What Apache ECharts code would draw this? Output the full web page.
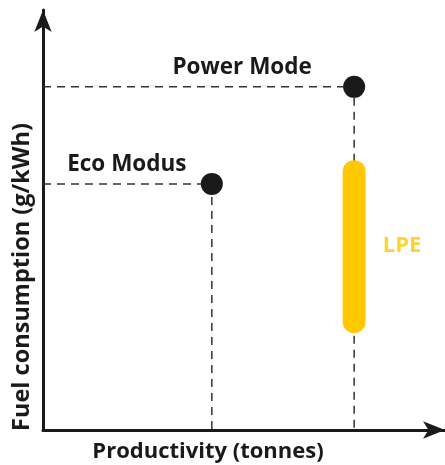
<!DOCTYPE html>
<html><head><meta charset="utf-8">
<script src="https://cdn.jsdelivr.net/npm/echarts@6/dist/echarts.min.js"></script>
<style>html,body{margin:0;padding:0;background:#fff}#c{width:445px;height:465px}</style>
</head><body><div id="c"></div>
<script>
const modes = ['Eco Modus', 'Power Mode'];
const productivity = [42.0, 77.4];
const fuelConsumption = [58.6, 81.7];
const lpeName = 'LPE';
const lpeProductivity = 77.4;
const lpeRange = [25.8, 61.5];
const xTitle = 'Productivity (tonnes)';
const yTitle = 'Fuel consumption (g/kWh)';

const FONT = '"Open Sans"';
const DARK = '#1a1a1a';
const YELLOW = '#ffc800';

const chart = echarts.init(document.getElementById('c'));
const series = [];
modes.forEach((m, i) => {
  series.push({
    type: 'line', silent: true, symbol: 'none',
    data: [[0, fuelConsumption[i]], [productivity[i], fuelConsumption[i]], [productivity[i], 0]],
    lineStyle: { color: '#333', width: 1.5, type: [8, 6] }, z: 1
  });
});
series.push({
  type: 'line', silent: true, symbol: 'none',
  data: lpeRange.map(v => [lpeProductivity, v]),
  lineStyle: { color: YELLOW, width: 23, cap: 'round' }, z: 2
});
series.push({
  type: 'scatter', symbolSize: 0,
  data: [[lpeProductivity, (lpeRange[0] + lpeRange[1]) / 2]],
  label: { show: true, formatter: lpeName, position: 'inside', offset: [48, -1],
    color: YELLOW, fontFamily: FONT, fontWeight: 'bold', fontSize: 22 }, z: 3
});
const labelOffsets = [[-85, -19], [-112, -19]];
series.push({
  type: 'scatter', symbolSize: 22, itemStyle: { color: DARK, opacity: 1 },
  emphasis: { disabled: true },
  data: modes.map((m, i) => ({
    value: [productivity[i], fuelConsumption[i]],
    label: { show: true, formatter: m, position: 'inside', offset: labelOffsets[i],
      color: DARK, opacity: 1, fontFamily: FONT, fontWeight: 'bold', fontSize: 22.5 }
  })), z: 4
});

chart.setOption({
  animation: false,
  grid: { left: 43, right: 0, top: 10, bottom: 35 },
  xAxis: { type: 'value', min: 0, max: 100,
    axisLine: { lineStyle: { color: DARK, width: 3 }, symbol: ['none', 'arrow'], symbolSize: [13, 22] },
    axisTick: { show: false }, axisLabel: { show: false }, splitLine: { show: false } },
  yAxis: { type: 'value', min: 0, max: 100,
    axisLine: { show: true, lineStyle: { color: DARK, width: 3 }, symbol: ['none', 'arrow'], symbolSize: [13, 22] },
    axisTick: { show: false }, axisLabel: { show: false }, splitLine: { show: false } },
  graphic: [
    { type: 'text', x: 208, y: 452, style: { text: xTitle, textAlign: 'center', textVerticalAlign: 'middle',
      fill: DARK, font: 'bold 22px ' + FONT } },
    { type: 'text', x: 22, y: 277, rotation: Math.PI / 2, style: { text: yTitle, textAlign: 'center', textVerticalAlign: 'middle',
      fill: DARK, font: 'bold 23.5px ' + FONT } }
  ],
  series: series
});
</script></body></html>
